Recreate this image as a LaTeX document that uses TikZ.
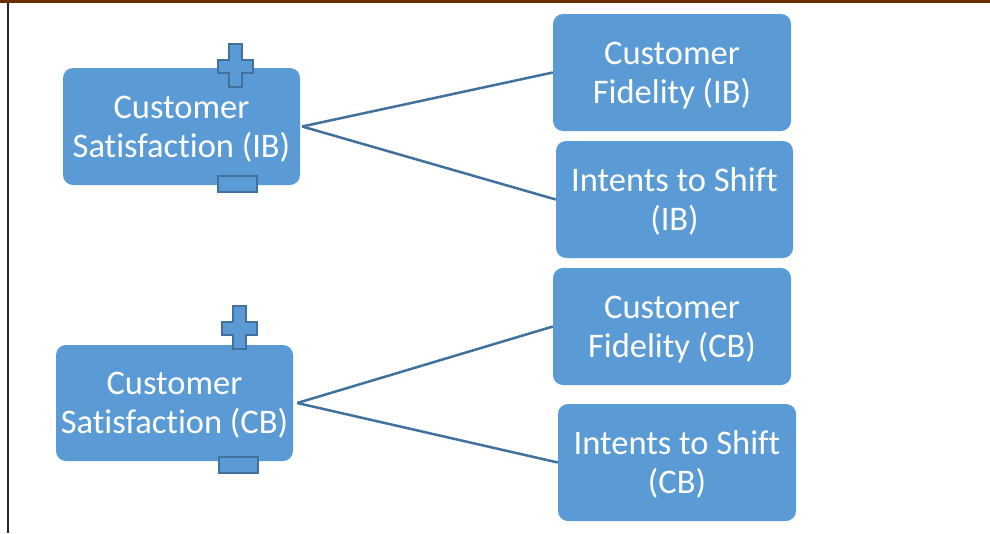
\documentclass[tikz,border=0pt]{standalone}
\usepackage{fontspec}
\setmainfont{Carlito}[Ligatures=NoCommon]
\definecolor{boxblue}{HTML}{5B9BD5}
\definecolor{edgeblue}{HTML}{41719C}
\definecolor{topbrown}{HTML}{6B2E00}
\newcommand\boxlines[1]{\raisebox{-9.5pt}[0pt][0pt]{\begin{tabular}{@{}c@{}}#1\end{tabular}}}
\tikzset{
  box/.style={fill=boxblue, rounded corners=10pt, draw=none, text=white,
    align=center, inner sep=0pt, font=\fontsize{34.5}{39}\selectfont},
  conn/.style={draw=edgeblue, line width=2.5pt},
  sign/.style={fill=boxblue, draw=edgeblue, line width=2pt},
  pics/plussign/.style={code={
    \path[sign] (-6.5,-21.5) -- (6.5,-21.5) -- (6.5,-6) -- (17.5,-6) -- (17.5,7) -- (6.5,7)
      -- (6.5,21.5) -- (-6.5,21.5) -- (-6.5,7) -- (-17.5,7) -- (-17.5,-6) -- (-6.5,-6) -- cycle;
  }},
  pics/minussign/.style={code={
    \path[sign] (-19.5,-8) rectangle (19.5,8);
  }}
}
\begin{document}
\begin{tikzpicture}[x=1pt,y=-1pt]
\useasboundingbox (0,0) rectangle (990,533);
\fill[white] (0,0) rectangle (990,533);
\draw[topbrown, line width=3pt] (0,1) -- (990,1);
\draw[black!85, line width=1.5pt] (8,2.5) -- (8,533);

\node[box, minimum width=237pt, minimum height=117pt] (s1) at (181.5,126.5) {\boxlines{Customer\\Satisfaction (IB)}};
\node[box, minimum width=237pt, minimum height=116pt] (s2) at (174.5,403) {\boxlines{Customer\\Satisfaction (CB)}};
\node[box, minimum width=238pt, minimum height=117pt] (f1) at (672,72.5) {\boxlines{Customer\\Fidelity (IB)}};
\node[box, minimum width=237pt, minimum height=117pt] (i1) at (674.5,199.5) {\boxlines{Intents to Shift\\(IB)}};
\node[box, minimum width=238pt, minimum height=117pt] (f2) at (672,326.5) {\boxlines{Customer\\Fidelity (CB)}};
\node[box, minimum width=238pt, minimum height=117pt] (i2) at (677,462.5) {\boxlines{Intents to Shift\\(CB)}};

\coordinate (j1) at ([xshift=2pt]s1.east);
\coordinate (j2) at ([xshift=4pt]s2.east);
\draw[conn] (j1) -- (f1.west);
\draw[conn] (j1) -- (i1.west);
\draw[conn] (j2) -- (f2.west);
\draw[conn] (j2) -- (i2.west);

\pic at (235.5,65.5) {plussign};
\pic at (237,184) {minussign};
\pic at (239.5,327.5) {plussign};
\pic at (238.5,465) {minussign};
\end{tikzpicture}
\end{document}
